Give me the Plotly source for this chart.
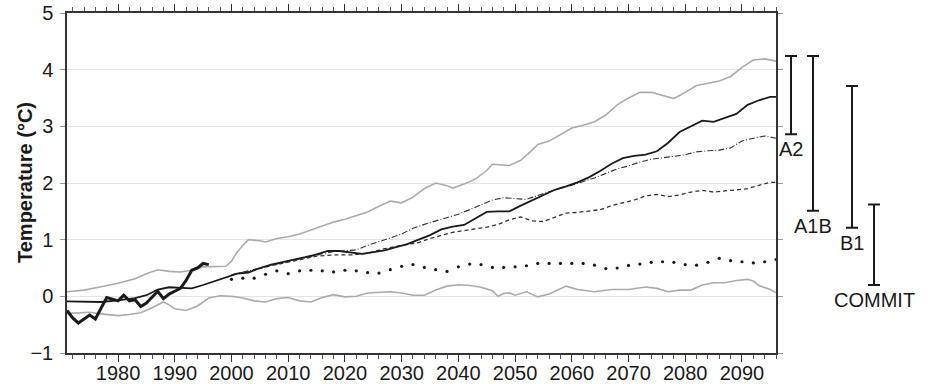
import plotly.graph_objects as go

# ---- observed annual anomalies (thick black) ----
obs_years = list(range(1971, 1997))
obs_temp = [-0.25, -0.38, -0.47, -0.40, -0.33, -0.40, -0.20, -0.02, -0.05, -0.08,
            0.02, -0.08, -0.06, -0.18, -0.12, -0.02, 0.09, -0.04, 0.04, 0.09,
            0.14, 0.28, 0.46, 0.50, 0.58, 0.56]

# ---- ensemble mean: 20th century continued by A2 (solid) ----
a2_years = [1971, 1974, 1977, 1980, 1983, 1985, 1987, 1989, 1991, 1993, 1995, 1997,
            1999, 2001, 2003, 2005, 2007, 2009, 2011, 2013, 2015, 2017, 2019, 2021,
            2023, 2025, 2027, 2029, 2031, 2033, 2035, 2037, 2039, 2041, 2043, 2045,
            2047, 2049, 2051, 2053, 2055, 2057, 2059, 2061, 2063, 2065, 2067, 2069,
            2071, 2073, 2075, 2077, 2079, 2081, 2083, 2085, 2087, 2089, 2091, 2093,
            2095, 2096]
a2_temp = [-0.09, -0.10, -0.10, -0.07, -0.03, 0.02, 0.12, 0.16, 0.15, 0.14, 0.20, 0.27,
           0.33, 0.40, 0.42, 0.50, 0.56, 0.60, 0.65, 0.69, 0.74, 0.80, 0.80, 0.77,
           0.75, 0.78, 0.81, 0.87, 0.92, 1.00, 1.08, 1.18, 1.23, 1.26, 1.38, 1.49,
           1.50, 1.50, 1.60, 1.69, 1.79, 1.88, 1.94, 2.01, 2.10, 2.21, 2.34, 2.44,
           2.48, 2.50, 2.56, 2.71, 2.90, 3.00, 3.10, 3.08, 3.15, 3.22, 3.38, 3.46,
           3.52, 3.52]

# ---- A1B (dash-dot) ----
a1b_years = [2000, 2003, 2007, 2011, 2015, 2016, 2018, 2020, 2022, 2024, 2026, 2028,
             2030, 2032, 2034, 2036, 2038, 2040, 2042, 2044, 2046, 2048, 2050, 2052,
             2054, 2056, 2058, 2060, 2062, 2064, 2066, 2068, 2070, 2072, 2074, 2076,
             2078, 2080, 2082, 2084, 2086, 2088, 2090, 2092, 2094, 2096]
a1b_temp = [0.38, 0.45, 0.55, 0.64, 0.72, 0.75, 0.79, 0.80, 0.82, 0.90, 0.96, 1.03,
            1.10, 1.20, 1.27, 1.33, 1.38, 1.45, 1.53, 1.62, 1.70, 1.74, 1.72, 1.71,
            1.78, 1.85, 1.91, 1.96, 2.02, 2.09, 2.17, 2.25, 2.30, 2.37, 2.42, 2.44,
            2.47, 2.50, 2.55, 2.57, 2.58, 2.62, 2.74, 2.79, 2.83, 2.79]

# ---- B1 (dashed) ----
b1_years = [2000, 2003, 2007, 2011, 2015, 2018, 2021, 2024, 2027, 2030, 2033, 2035,
            2037, 2039, 2041, 2043, 2045, 2047, 2049, 2051, 2053, 2055, 2057, 2059,
            2061, 2063, 2065, 2067, 2069, 2071, 2073, 2075, 2077, 2079, 2081, 2083,
            2085, 2087, 2089, 2091, 2093, 2095, 2096]
b1_temp = [0.38, 0.44, 0.54, 0.63, 0.71, 0.73, 0.73, 0.76, 0.84, 0.90, 0.95, 1.02,
           1.08, 1.13, 1.16, 1.19, 1.22, 1.27, 1.35, 1.40, 1.33, 1.32, 1.40, 1.47,
           1.48, 1.50, 1.53, 1.60, 1.65, 1.70, 1.77, 1.80, 1.76, 1.79, 1.84, 1.87,
           1.84, 1.86, 1.88, 1.90, 1.96, 2.01, 2.01]

# ---- constant-composition commitment (dotted) ----
commit_years = list(range(2000, 2097, 2))
commit_temp = [0.30, 0.32, 0.32, 0.39, 0.45, 0.40, 0.45, 0.46, 0.45, 0.43, 0.46, 0.45,
               0.42, 0.41, 0.47, 0.53, 0.56, 0.51, 0.47, 0.44, 0.52, 0.57, 0.56, 0.51,
               0.51, 0.52, 0.54, 0.58, 0.58, 0.58, 0.58, 0.58, 0.55, 0.49, 0.50, 0.545,
               0.57, 0.60, 0.61, 0.60, 0.56, 0.55, 0.60, 0.67, 0.63, 0.61, 0.59, 0.61,
               0.65]

# ---- envelope of the ensemble (grey) ----
upper_years = [1971, 1974, 1977, 1980, 1983, 1985, 1987, 1989, 1991, 1993, 1995, 1997,
               1999, 2000, 2001, 2002, 2003, 2005, 2006, 2008, 2010, 2012, 2014, 2016,
               2018, 2020, 2022, 2024, 2026, 2028, 2030, 2032, 2034, 2036, 2038, 2039,
               2041, 2043, 2045, 2046, 2049, 2051, 2053, 2054, 2056, 2058, 2060, 2062,
               2064, 2066, 2068, 2070, 2072, 2074, 2076, 2078, 2080, 2082, 2084, 2086,
               2088, 2090, 2092, 2094, 2096]
upper_temp = [0.08, 0.11, 0.17, 0.23, 0.31, 0.40, 0.47, 0.44, 0.43, 0.46, 0.52, 0.52,
              0.53, 0.62, 0.78, 0.90, 1.00, 0.98, 0.96, 1.02, 1.05, 1.10, 1.17, 1.24,
              1.31, 1.36, 1.42, 1.49, 1.59, 1.68, 1.65, 1.75, 1.90, 2.00, 1.95, 1.91,
              1.98, 2.07, 2.22, 2.33, 2.31, 2.40, 2.58, 2.68, 2.74, 2.85, 2.97, 3.02,
              3.08, 3.20, 3.38, 3.50, 3.60, 3.60, 3.54, 3.49, 3.60, 3.72, 3.76, 3.80,
              3.88, 4.04, 4.17, 4.19, 4.15]
lower_years = [1971, 1973, 1975, 1977, 1980, 1982, 1984, 1986, 1988, 1989, 1990, 1992,
               1994, 1996, 1998, 2000, 2002, 2004, 2006, 2008, 2010, 2012, 2014, 2016,
               2018, 2020, 2022, 2024, 2026, 2028, 2030, 2032, 2034, 2036, 2038, 2040,
               2042, 2044, 2046, 2047, 2048, 2049, 2050, 2052, 2054, 2056, 2059, 2061,
               2064, 2067, 2070, 2073, 2075, 2077, 2079, 2081, 2083, 2085, 2087, 2089,
               2091, 2092, 2093, 2095, 2096]
lower_temp = [-0.30, -0.29, -0.28, -0.31, -0.34, -0.32, -0.29, -0.20, -0.10, -0.15,
              -0.22, -0.25, -0.17, -0.03, 0.01, 0.00, -0.03, -0.08, -0.10, -0.04,
              -0.02, -0.08, -0.10, -0.02, 0.03, -0.01, 0.00, 0.06, 0.07, 0.08, 0.06,
              0.02, 0.02, 0.11, 0.18, 0.205, 0.19, 0.16, 0.10, 0.00, 0.05, 0.06, 0.02,
              0.08, -0.01, 0.04, 0.18, 0.12, 0.08, 0.12, 0.12, 0.165, 0.14, 0.08, 0.11,
              0.11, 0.20, 0.24, 0.24, 0.28, 0.30, 0.27, 0.19, 0.12, 0.06]

# ---- 2080-2099 ranges per scenario (bars at the right) ----
scenarios = ["A2", "A1B", "B1", "COMMIT"]
range_low = [2.86, 1.51, 1.21, 0.20]
range_high = [4.24, 4.24, 3.71, 1.62]

# tick labels
year_ticks = list(range(1980, 2091, 10))
temp_ticks = list(range(-1, 6))

# placement of the range bars inside the side panel
bar_pos = [15, 37, 76, 98]

GREY = "#ababab"
INK = "#1a1a1a"
FONT = "Liberation Sans, Arial, Helvetica, sans-serif"

fig = go.Figure()

fig.add_trace(go.Scatter(x=upper_years, y=upper_temp, mode="lines",
                         line=dict(color=GREY, width=1.6), hoverinfo="skip"))
fig.add_trace(go.Scatter(x=lower_years, y=lower_temp, mode="lines",
                         line=dict(color=GREY, width=1.6), hoverinfo="skip"))
fig.add_trace(go.Scatter(x=commit_years, y=commit_temp, mode="markers",
                         marker=dict(color=INK, size=3.2, symbol="circle",
                                     line=dict(width=0))))
fig.add_trace(go.Scatter(x=b1_years, y=b1_temp, mode="lines",
                         line=dict(color="#333333", width=1.3, dash="4px,3px")))
fig.add_trace(go.Scatter(x=a1b_years, y=a1b_temp, mode="lines",
                         line=dict(color="#333333", width=1.1, dash="6px,2px,1px,2px")))
fig.add_trace(go.Scatter(x=a2_years, y=a2_temp, mode="lines",
                         line=dict(color=INK, width=1.8)))
fig.add_trace(go.Scatter(x=obs_years, y=obs_temp, mode="lines",
                         line=dict(color=INK, width=3)))

# range bars drawn as error bars about the midpoint
mids = [(lo + hi) / 2 for lo, hi in zip(range_low, range_high)]
halves = [(hi - lo) / 2 for lo, hi in zip(range_low, range_high)]
fig.add_trace(go.Scatter(
    x=bar_pos, y=mids, mode="markers", xaxis="x2", yaxis="y2",
    marker=dict(size=1, color="rgba(0,0,0,0)"),
    error_y=dict(type="data", array=halves, symmetric=True,
                 color=INK, thickness=2, width=6),
))

for name, pos, lo in zip(scenarios, bar_pos, range_low):
    fig.add_annotation(x=pos, y=lo, xref="x2", yref="y2", text=name,
                       showarrow=False, yanchor="top", xanchor="center",
                       yshift=-2, font=dict(size=20, color=INK, family=FONT))

W, H = 928, 384
L, R, T, B = 67, 10, 13, 31
plot_w = W - L - R
main_frac = (776 - L) / plot_w

# y-axis title placed in the left margin
fig.add_annotation(text="<b>Temperature (°C)</b>", textangle=-90,
                   xref="paper", yref="paper", x=(25 - L) / plot_w, y=0.5,
                   xanchor="center", yanchor="middle", showarrow=False,
                   font=dict(size=20, color=INK, family=FONT))

fig.update_layout(
    width=W, height=H,
    margin=dict(l=L, r=R, t=T, b=B, autoexpand=False),
    paper_bgcolor="white", plot_bgcolor="white",
    showlegend=False,
    font=dict(family=FONT, color=INK, size=20),
    xaxis=dict(
        domain=[0, main_frac], range=[1971, 2096], automargin=False,
        tickvals=year_ticks, ticks="outside", ticklen=7, tickwidth=1,
        tickcolor="#333", showline=True, linecolor="#333", linewidth=1.5,
        mirror="ticks", showgrid=False, zeroline=False,
        tickfont=dict(size=20), ticklabelstandoff=-6,
        minor=dict(dtick=2, tick0=1970, ticks="outside", ticklen=4,
                   tickcolor="#555", showgrid=False),
    ),
    yaxis=dict(
        range=[-1, 5], tickvals=temp_ticks, ticks="outside", ticklen=5,
        automargin=False,
        tickcolor="#999", showline=True, linecolor="#333", linewidth=1.5,
        mirror="ticks", showgrid=True, gridcolor="#e4e4e4", gridwidth=1,
        zeroline=False, tickfont=dict(size=20), ticklabelstandoff=3,
    ),
    xaxis2=dict(domain=[main_frac, 1], range=[0, plot_w - (776 - L)],
                anchor="y2", visible=False, fixedrange=True, automargin=False),
    yaxis2=dict(range=[-1, 5], anchor="x2", visible=False, domain=[0, 1],
                automargin=False),
)

fig.write_html("out.html")
